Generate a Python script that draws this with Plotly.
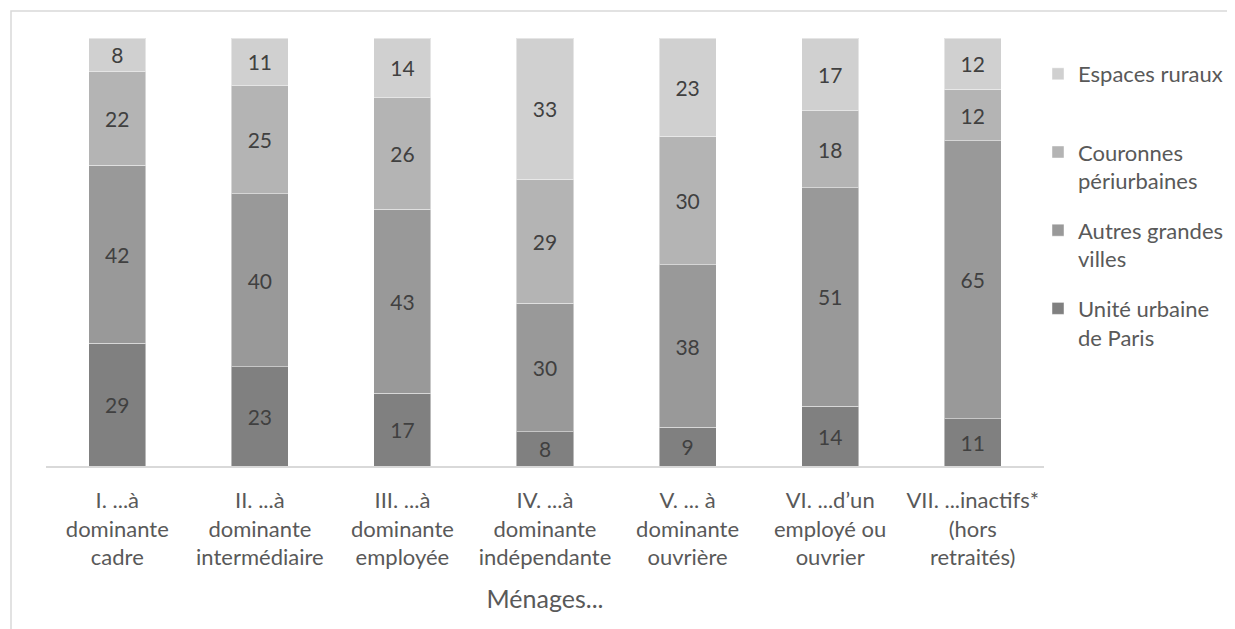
import plotly.graph_objects as go

categories = [
    "I. ...à<br>dominante<br>cadre",
    "II. ...à<br>dominante<br>intermédiaire",
    "III. ...à<br>dominante<br>employée",
    "IV. ...à<br>dominante<br>indépendante",
    "V. ... à<br>dominante<br>ouvrière",
    "VI. ...d’un<br>employé ou<br>ouvrier",
    "VII. ...inactifs*<br>(hors<br>retraités)",
]
paris = [29, 23, 17, 8, 9, 14, 11]
autres_villes = [42, 40, 43, 30, 38, 51, 65]
couronnes = [22, 25, 26, 29, 30, 18, 12]
ruraux = [8, 11, 14, 33, 23, 17, 12]

series_names = ["Unité urbaine<br>de Paris", "Autres grandes<br>villes", "Couronnes<br>périurbaines", "Espaces ruraux<br>\u00a0"]
series_values = [paris, autres_villes, couronnes, ruraux]
series_colors = ["#808080", "#999999", "#b4b4b4", "#d0d0d0"]
legend_ranks = [4, 3, 2, 1]

FONT = "Lato"
OFF = 8  # default body margin of the page
fig = go.Figure()
for name, vals, col, rk in zip(series_names, series_values, series_colors, legend_ranks):
    fig.add_trace(go.Bar(
        x=categories, y=vals, name=name, legendgroup=name, legendrank=rk,
        marker=dict(color=col, line=dict(color="rgba(255,255,255,0.45)", width=1)),
        text=[str(v) for v in vals], textposition="inside", insidetextanchor="middle",
        textfont=dict(family=FONT, size=21, color="#404040"),
        hoverinfo="skip",
    ))

W, H = 1235 - OFF, 629 - OFF
L, R, T, B = 46 - OFF, 1235 - 1044, 38 - OFF, 629 - 466
pw, ph = W - L - R, H - T - B

def px_x(x):
    return (x - OFF - L) / pw

def px_y(y):
    return (H - B - (y - OFF)) / ph

fig.update_layout(
    width=W, height=H,
    margin=dict(l=L, r=R, t=T, b=B, autoexpand=False),
    barmode="stack", barnorm="percent", bargap=0.6,
    paper_bgcolor="white", plot_bgcolor="white",
    font=dict(family=FONT, size=22, color="#595959"),
    uniformtext=dict(minsize=21, mode="show"),
    showlegend=True,
    legend=dict(
        x=px_x(1038), xanchor="left", y=px_y(53), yanchor="top",
        traceorder="grouped", tracegroupgap=18, valign="top",
        font=dict(family=FONT, size=22, color="#595959"),
        bgcolor="rgba(0,0,0,0)",
    ),
    xaxis=dict(
        showline=True, linecolor="#d9d9d9", linewidth=1.5,
        showgrid=False, ticks="", ticklabelstandoff=14,
        tickfont=dict(family=FONT, size=22, color="#595959"),
        title=dict(text="Ménages...", font=dict(family=FONT, size=25, color="#595959"), standoff=21),
        automargin=False, fixedrange=True,
    ),
    yaxis=dict(visible=False, range=[0, 100], showgrid=False, automargin=False, fixedrange=True),
    shapes=[dict(
        type="path", xref="paper", yref="paper",
        path=f"M {px_x(11)} {px_y(700)} L {px_x(11)} {px_y(11)} L {px_x(1400)} {px_y(11)}",
        line=dict(color="#d9d9d9", width=1.5),
    )],
)

fig.write_html("out.html")
